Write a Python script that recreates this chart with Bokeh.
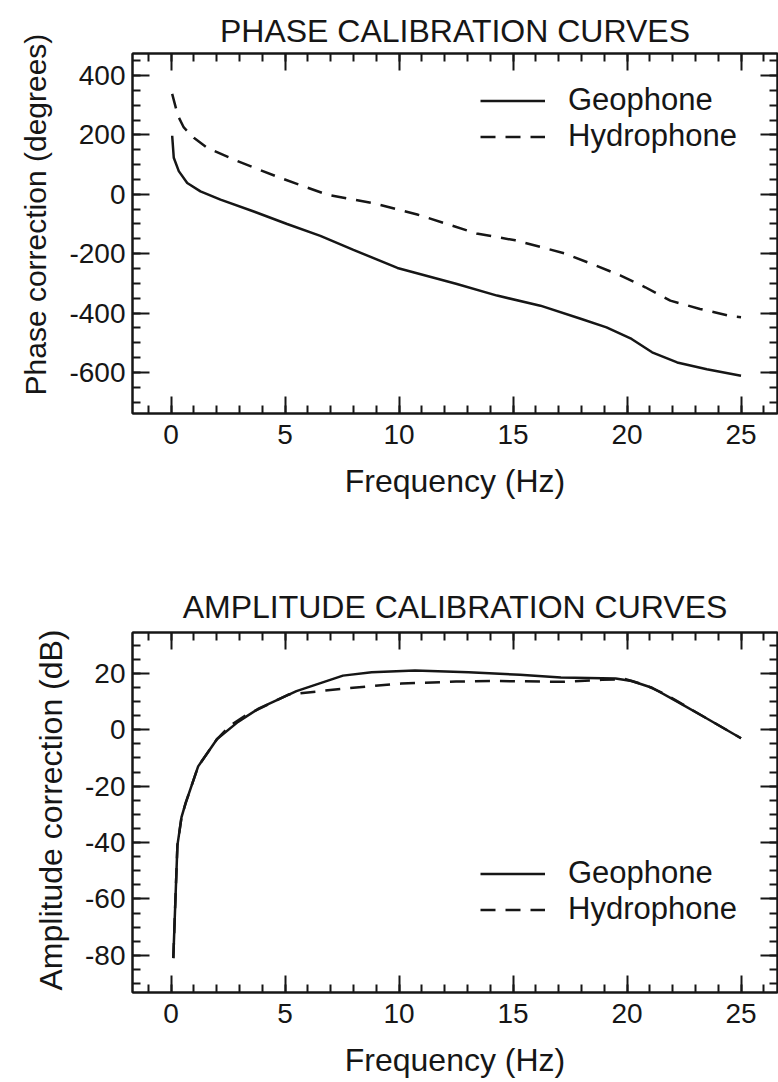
from bokeh.plotting import figure
from bokeh.layouts import column
from bokeh.models import (LinearAxis, SingleIntervalTicker, Range1d, Legend, LegendItem,
                          NumeralTickFormatter, CustomLabelingPolicy, Title)
from bokeh.embed import file_html
from bokeh.resources import INLINE

# ---- data ----
phase_geo_f = [0.05, 0.12, 0.34, 0.71, 1.29, 2.17, 3.63, 5.09, 6.55, 8.0, 9.93, 12.5, 14.3,
               16.2, 18.0, 19.1, 20.2, 21.1, 22.2, 23.5, 25.0]
phase_geo_v = [197, 123, 78, 38, 10, -18, -58, -100, -140, -187, -248, -301, -341,
               -375, -420, -448, -487, -532, -566, -589, -611]
phase_hyd_f = [0.05, 0.3, 0.56, 1.0, 1.58, 2.9, 4.8, 6.84, 8.87, 10.8, 13.4, 15.1, 16.2,
               17.3, 18.6, 19.7, 20.8, 21.9, 23.2, 24.6, 25.0]
phase_hyd_v = [338, 265, 225, 190, 157, 112, 55, -1, -30, -68, -132, -155, -177,
               -200, -239, -273, -313, -358, -386, -411, -414]

amp_geo_f = [0.1, 0.18, 0.28, 0.46, 0.64, 1.19, 2.02, 2.94, 3.86, 5.5, 7.54, 8.8, 10.7,
             13.05, 15.3, 17.1, 19.5, 20.2, 21.1, 22.2, 23.5, 25.0]
amp_geo_v = [-81, -63, -41, -31, -26, -13, -3.3, 2.8, 7.6, 13.7, 19.2, 20.4, 21,
             20.4, 19.5, 18.5, 18.2, 17.3, 14.9, 10, 4, -3]
amp_hyd_f = [0.1, 0.18, 0.28, 0.46, 0.64, 1.19, 2.02, 2.6, 3.3, 5.15, 7.7, 10.1, 12.5,
             14.3, 17.1, 18.9, 19.9, 20.8, 21.7, 23.5, 25.0]
amp_hyd_v = [-81, -63, -41, -31, -26, -13, -3.3, 1.5, 5.2, 12.5, 14.7, 16.4, 17.1,
             17.3, 17, 17.7, 18, 15.9, 12.5, 4, -3]

series_labels = ["Geophone", "Hydrophone"]

FONT = "Liberation Sans"
INK = "#161616"


def style_axis(ax, labels=True):
    ax.axis_line_color = INK
    ax.axis_line_width = 2
    ax.major_tick_line_color = INK
    ax.major_tick_line_width = 2
    ax.minor_tick_line_color = INK
    ax.minor_tick_line_width = 2
    ax.major_tick_in = 17
    ax.major_tick_out = 0
    ax.minor_tick_in = 8
    ax.minor_tick_out = 0
    if labels:
        ax.major_label_text_font = FONT
        ax.major_label_text_font_size = "28px"
        ax.major_label_text_color = INK
        ax.axis_label_text_font = FONT
        ax.axis_label_text_font_size = "32px"
        ax.axis_label_text_font_style = "normal"
        ax.axis_label_text_color = INK
    else:
        ax.major_label_policy = CustomLabelingPolicy(code="return new Set()")
        ax.major_label_text_font_size = "0px"
        ax.major_label_standoff = 0
        ax.axis_label = None


def make_panel(title, ylabel, xr, yr, yint, geo, hyd, h, bt, bb, legend_y, tstand,
               ylab_size, ylab_offset, ylab_standoff):
    p = figure(width=778, height=h, output_backend="svg", toolbar_location=None,
               x_range=Range1d(*xr), y_range=Range1d(*yr),
               min_border_left=132, min_border_right=1,
               min_border_top=bt, min_border_bottom=bb,
               x_axis_type=None, y_axis_type=None)
    p.grid.visible = False
    p.outline_line_color = INK
    p.outline_line_width = 2
    p.background_fill_color = "white"
    p.border_fill_color = "white"

    xt = SingleIntervalTicker(interval=5, num_minor_ticks=5)
    yt = SingleIntervalTicker(interval=yint, num_minor_ticks=4)

    xb = LinearAxis(ticker=xt, axis_label="Frequency (Hz)")
    style_axis(xb)
    xb.major_label_standoff = 11
    xb.axis_label_standoff = 16
    p.add_layout(xb, "below")

    yl = LinearAxis(ticker=yt, formatter=NumeralTickFormatter(format="0"))
    style_axis(yl)
    yl.major_label_standoff = 7
    p.add_layout(yl, "left")

    ytitle = Title(text=ylabel, align="left", offset=ylab_offset,
                   text_font=FONT, text_font_size=ylab_size,
                   text_font_style="normal", text_color=INK, standoff=ylab_standoff)
    p.add_layout(ytitle, "left")

    xa = LinearAxis(ticker=SingleIntervalTicker(interval=5, num_minor_ticks=5))
    style_axis(xa, labels=False)
    p.add_layout(xa, "above")
    yr_ax = LinearAxis(ticker=SingleIntervalTicker(interval=yint, num_minor_ticks=4))
    style_axis(yr_ax, labels=False)
    p.add_layout(yr_ax, "right")

    p.title.text = title
    p.title.align = "center"
    p.title.text_font = FONT
    p.title.text_font_size = "32px"
    p.title.text_font_style = "normal"
    p.title.text_color = INK
    p.title.standoff = tstand

    r1 = p.line(geo[0], geo[1], line_color=INK, line_width=2.5)
    r2 = p.line(hyd[0], hyd[1], line_color=INK, line_width=2.5, line_dash="15 10")

    leg = Legend(items=[LegendItem(label=series_labels[0], renderers=[r1]),
                        LegendItem(label=series_labels[1], renderers=[r2])],
                 location=(348, legend_y), glyph_width=65, glyph_height=35,
                 label_height=35, label_standoff=23, padding=0, spacing=0, margin=0,
                 border_line_alpha=0, background_fill_alpha=0,
                 label_text_font=FONT, label_text_font_size="31px",
                 label_text_color=INK)
    p.add_layout(leg)
    return p


p1 = make_panel("PHASE CALIBRATION CURVES", "Phase correction (degrees)",
                (-1.69, 26.6), (-738, 474), 200,
                (phase_geo_f, phase_geo_v), (phase_hyd_f, phase_hyd_v),
                540, 53, 127, 259, 10, "30px", 18, 30)
p2 = make_panel("AMPLITUDE CALIBRATION CURVES", "Amplitude correction (dB)",
                (-1.69, 26.6), (-93.2, 34.5), 20,
                (amp_geo_f, amp_geo_v), (amp_hyd_f, amp_hyd_v),
                542, 92, 90, 65, 16, "32px", 2, 28)

layout = column(p1, p2, spacing=0)
open("out.html", "w").write(file_html(layout, INLINE))
